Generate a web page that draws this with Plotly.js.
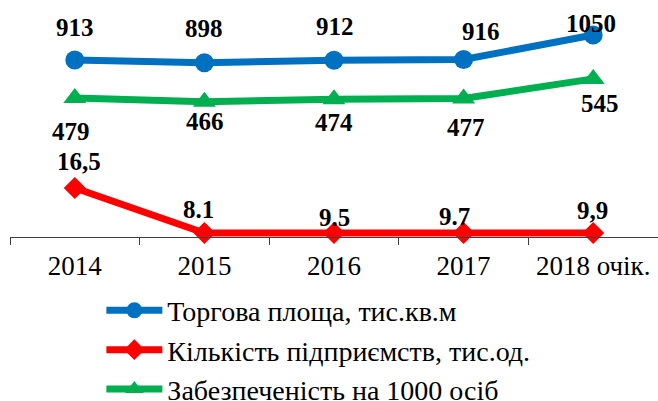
<!DOCTYPE html>
<html>
<head>
<meta charset="utf-8">
<script src="https://cdn.plot.ly/plotly-3.0.1.min.js"></script>
<style>html,body{margin:0;padding:0;background:#fff;}#chart{width:658px;height:401px;}</style>
</head>
<body>
<div id="chart"></div>
<script>
// ---- data ----
var years = ['2014', '2015', '2016', '2017', '2018 очік.'];
var torgovaName = 'Торгова площа, тис.кв.м';
var torgova = [913, 898, 912, 916, 1050];
var kilkistName = 'Кількість підприємств, тис.од.';
var kilkistLabels = ['16,5', '8.1', '9.5', '9.7', '9,9'];
var kilkist = [16.5, 1.0, 1.0, 1.0, 1.0]; // plotted heights
var zabezpName = 'Забезпеченість на 1000 осіб';
var zabezp = [479, 466, 474, 477, 545];

// ---- label offsets (px) ----
var torgovaOff = [[0, 33], [0, 34], [1, 34], [17, 28], [-2, 12]];
var kilkistOff = [[4, 26], [-6, 23], [0, 15], [-9, 16], [-1, 22]];
var zabezpOff = [[-4, -34], [1, -20], [0, -23], [2, -29], [7, -25]];

var serif = '"Liberation Serif", "Times New Roman", Times, serif';
var cBlue = '#0070C0', cRed = '#FF0000', cGreen = '#00B050';

var traces = [
  {x: years, y: torgova, name: torgovaName, yaxis: 'y', type: 'scatter', mode: 'lines+markers',
   line: {color: cBlue, width: 7}, marker: {color: cBlue, size: 19, symbol: 'circle'}, cliponaxis: false},
  {x: years, y: kilkist, name: kilkistName, yaxis: 'y2', type: 'scatter', mode: 'lines+markers',
   line: {color: cRed, width: 7}, marker: {color: cRed, size: 17, symbol: 'diamond'}, cliponaxis: false},
  {x: years, y: zabezp, name: zabezpName, yaxis: 'y3', type: 'scatter', mode: 'lines+markers',
   line: {color: cGreen, width: 7}, marker: {color: cGreen, size: 20, symbol: 'triangle-up'}, cliponaxis: false}
];

function labels(vals, texts, off, yref) {
  return vals.map(function (v, i) {
    // x given as the category index (category names like '2014' would be read as numbers)
    return {x: i, y: v, xref: 'x', yref: yref, text: '<b>' + texts[i] + '</b>', showarrow: false,
      xanchor: 'center', yanchor: 'middle', xshift: off[i][0], yshift: off[i][1],
      font: {family: serif, size: 25, color: '#000'}};
  });
}
var annotations = []
  .concat(labels(torgova, torgova.map(String), torgovaOff, 'y'))
  .concat(labels(kilkist, kilkistLabels, kilkistOff, 'y2'))
  .concat(labels(zabezp, zabezp.map(String), zabezpOff, 'y3'));

var hiddenY = {showgrid: false, zeroline: false, showticklabels: false, showline: false, ticks: ''};

var layout = {
  width: 658, height: 401,
  margin: {l: 10, r: 0, t: 0, b: 164, pad: 0, autoexpand: false},
  paper_bgcolor: '#fff', plot_bgcolor: 'rgba(0,0,0,0)',
  showlegend: true,
  font: {family: serif, color: '#000'},
  xaxis: {type: 'category', range: [-0.5, 4.5], tickson: 'boundaries',
    showgrid: false, zeroline: false, showline: true, linecolor: '#404040', linewidth: 1,
    ticks: 'outside', ticklen: 7, tickcolor: '#404040', tickwidth: 1,
    tickfont: {family: serif, size: 27, color: '#000'}, ticklabelstandoff: 5},
  yaxis: Object.assign({range: [-57, 1242]}, hiddenY),
  yaxis2: Object.assign({range: [-0.4, 81.3], overlaying: 'y'}, hiddenY),
  yaxis3: Object.assign({range: [-4, 819], overlaying: 'y'}, hiddenY),
  legend: {orientation: 'v', x: 0.141, xanchor: 'left', y: -0.205, yanchor: 'top',
    font: {family: serif, size: 28, color: '#000'}, itemwidth: 56, tracegroupgap: 0, bgcolor: 'rgba(0,0,0,0)'},
  annotations: annotations
};

Plotly.newPlot('chart', traces, layout, {displayModeBar: false, staticPlot: true});
</script>
</body>
</html>
